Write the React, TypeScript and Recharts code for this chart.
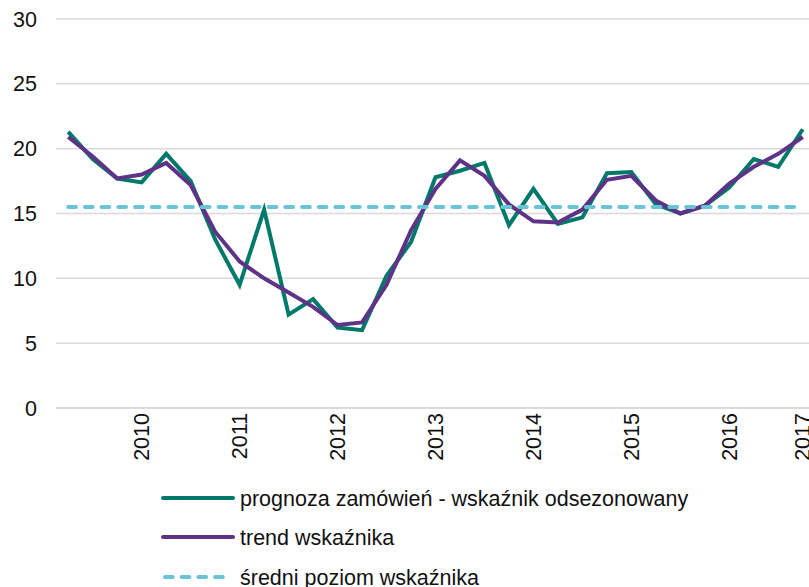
import { LineChart, Line, XAxis, YAxis, CartesianGrid, Legend } from "recharts";

// quarterly index, first point Q2 2009
const forecast = [
  21.3, 19.2, 17.7, 17.4, 19.6, 17.5, 13.0, 9.5, 15.3, 7.2, 8.4, 6.2, 6.0, 10.2, 12.8, 17.8,
  18.3, 18.9, 14.1, 16.9, 14.2, 14.7, 18.1, 18.2, 15.7, 15.0, 15.6, 17.0, 19.2, 18.6, 21.5,
];
const trend = [
  20.9, 19.4, 17.7, 18.0, 18.9, 17.2, 13.6, 11.3, 10.0, 8.9, 7.8, 6.4, 6.6, 9.5, 13.7, 16.9,
  19.1, 17.9, 15.7, 14.4, 14.3, 15.3, 17.6, 17.9, 16.0, 15.0, 15.6, 17.3, 18.6, 19.6, 20.9,
];
const averageLevel = 15.5;

const yearTicks = [3, 7, 11, 15, 19, 23, 27, 30];
const yearLabels = ["2010", "2011", "2012", "2013", "2014", "2015", "2016", "2017"];
const yTicks = [0, 5, 10, 15, 20, 25, 30];

const series = [
  { key: "forecast", name: "prognoza zamówień - wskaźnik odsezonowany", color: "#00796B", dash: undefined as string | undefined },
  { key: "trend", name: "trend wskaźnika", color: "#5E3387", dash: undefined as string | undefined },
  { key: "avg", name: "średni poziom wskaźnika", color: "#6BC3D8", dash: "7.7 9" },
];

const data = forecast.map((v, i) => ({ i, forecast: v, trend: trend[i], avg: averageLevel }));

const FONT = '"Liberation Sans", Arial, sans-serif';
const TEXT = "#111";
const FS = 21.5;

function YearTick(props: any) {
  const { x, y, payload } = props;
  const label = yearLabels[yearTicks.indexOf(payload.value)];
  return (
    <text
      x={x}
      y={y}
      dy="0.36em"
      textAnchor="end"
      transform={`rotate(-90 ${x} ${y})`}
      fontFamily={FONT}
      fontSize={FS}
      fill={TEXT}
    >
      {label}
    </text>
  );
}

function LegendBox() {
  const rows = [30, 69, 109];
  return (
    <svg width={809} height={119} style={{ display: "block" }}>
      {series.map((s, k) => (
        <g key={s.key}>
          <line
            x1={s.dash ? 165 : 163}
            x2={s.dash ? 231 : 233}
            y1={rows[k]}
            y2={rows[k]}
            stroke={s.color}
            strokeWidth={4}
            strokeDasharray={s.dash}
            strokeLinecap="round"
          />
          <text x={240} y={rows[k]} dy="0.36em" fontFamily={FONT} fontSize={FS} fill={TEXT}>
            {s.name}
          </text>
        </g>
      ))}
    </svg>
  );
}

export default function App() {
  return (
    <div style={{ position: "fixed", left: 0, top: 0, width: 809, height: 587, overflow: "hidden", background: "#fff" }}>
      <LineChart width={820} height={587} data={data} margin={{ top: 19, right: 5, left: 0, bottom: 0 }}>
        <CartesianGrid vertical={false} stroke="#d9d9d9" strokeWidth={1.5} />
        <XAxis
          type="number"
          dataKey="i"
          domain={[-0.5, 30.5]}
          ticks={yearTicks}
          interval={0}
          tick={<YearTick />}
          tickLine={false}
          tickSize={0}
          tickMargin={5}
          axisLine={{ stroke: "#d9d9d9", strokeWidth: 1.5 }}
          height={60}
        />
        <YAxis
          domain={[0, 30]}
          ticks={yTicks}
          interval={0}
          width={56}
          tickLine={false}
          axisLine={false}
          tickSize={0}
          tickMargin={19}
          tick={{ fontFamily: FONT, fontSize: FS, fill: TEXT }}
        />
        <Legend
          verticalAlign="bottom"
          content={() => <LegendBox />}
          wrapperStyle={{ left: 0, bottom: 0, width: 809, height: 119 }}
        />
        {series.map((s) => (
          <Line
            key={s.key}
            type="linear"
            dataKey={s.key}
            name={s.name}
            stroke={s.color}
            strokeWidth={4}
            strokeDasharray={s.dash}
            strokeLinecap={s.dash ? "round" : "butt"}
            dot={false}
            activeDot={false}
            isAnimationActive={false}
          />
        ))}
      </LineChart>
    </div>
  );
}
